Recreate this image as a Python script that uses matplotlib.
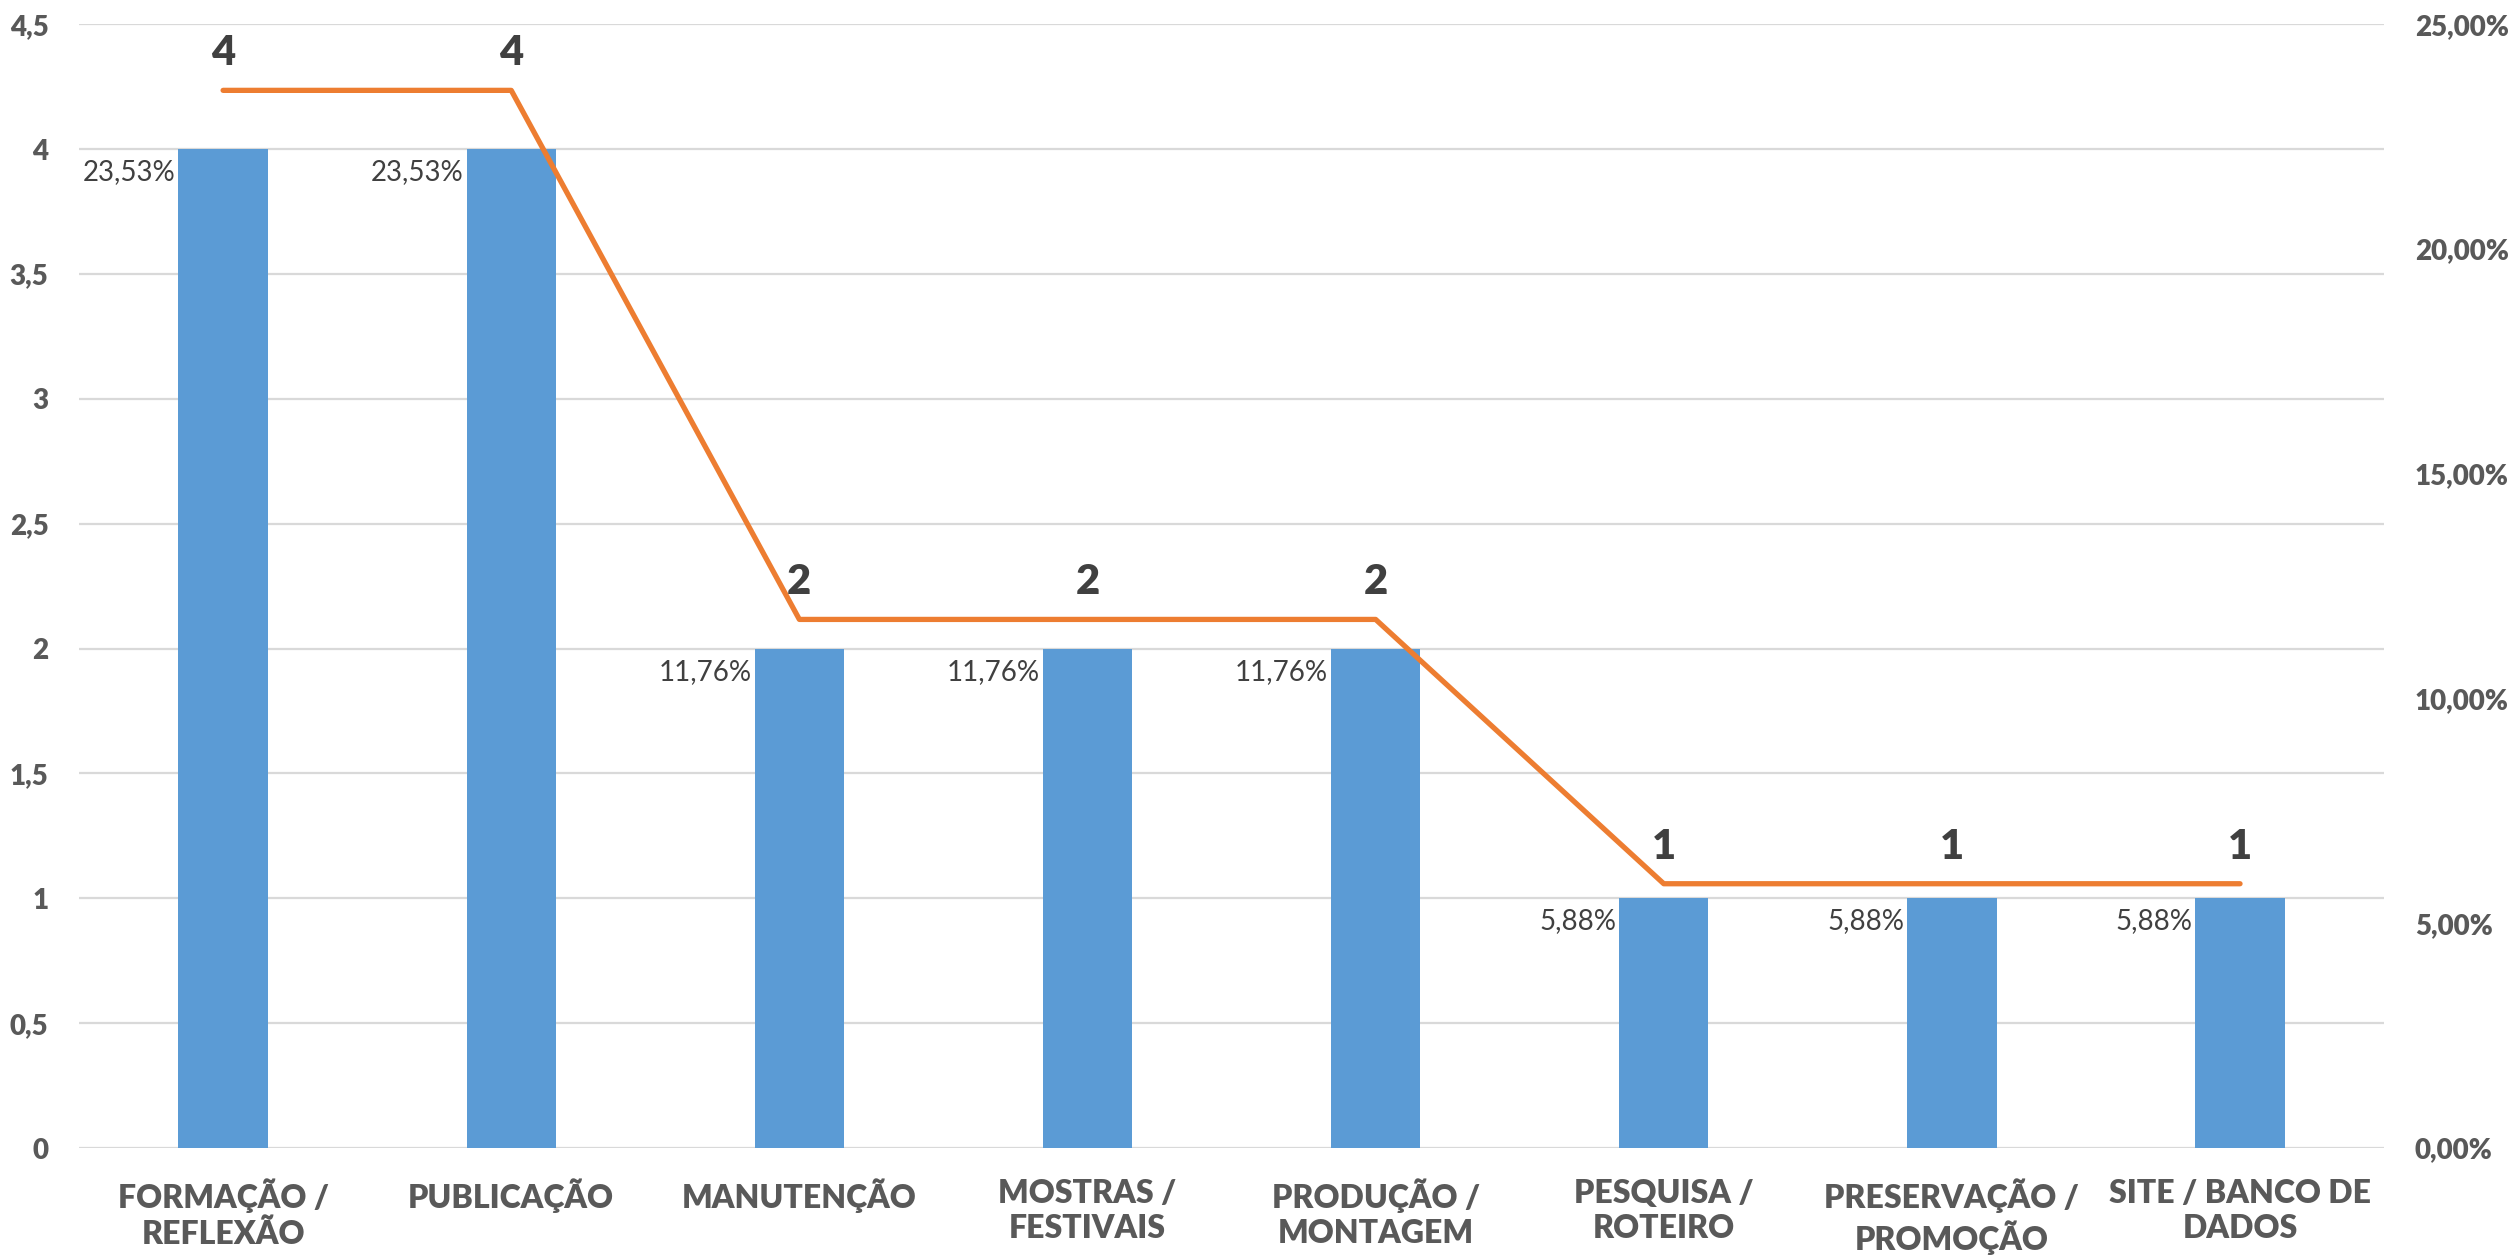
import matplotlib
matplotlib.use("Agg")
import matplotlib.pyplot as plt

plt.rcParams['font.family'] = ['Lato', 'DejaVu Sans']

categories = ["FORMAÇÃO /\nREFLEXÃO", "PUBLICAÇÃO", "MANUTENÇÃO", "MOSTRAS /\nFESTIVAIS",
              "PRODUÇÃO /\nMONTAGEM", "PESQUISA /\nROTEIRO", "PRESERVAÇÃO /\nPROMOÇÃO",
              "SITE / BANCO DE\nDADOS"]
counts = [4, 4, 2, 2, 2, 1, 1, 1]
percents = [23.53, 23.53, 11.76, 11.76, 11.76, 5.88, 5.88, 5.88]
left_ticks = [0, 0.5, 1, 1.5, 2, 2.5, 3, 3.5, 4, 4.5]
right_ticks = [0, 5, 10, 15, 20, 25]

BAR = "#5B9BD5"
LINE = "#ED7D31"
TICK = "#595959"
LAB = "#404040"
GRID = "#D9D9D9"

fig = plt.figure(figsize=(25.17, 12.58), dpi=100)
ax = fig.add_axes([0.0314, 0.0874, 0.9158, 0.8933])
x = list(range(len(categories)))

ax.bar(x, counts, width=0.31, color=BAR, zorder=2)
ax.set_xlim(-0.5, len(categories) - 0.5)
ax.set_ylim(0, 4.5)
ax.grid(axis='y', color=GRID, linewidth=1.6, zorder=0)
ax.set_axisbelow(True)
for s in ax.spines.values():
    s.set_visible(False)
ax.tick_params(axis='y', length=0, pad=22)
ax.tick_params(axis='x', length=0, pad=22)
ax.set_yticks(left_ticks, [f"{v:g}".replace(".", ",") for v in left_ticks])
ax.set_xticks(x, categories, fontweight='heavy', fontsize=23, color=TICK, linespacing=1.25)

for xi, c, p in zip(x, counts, percents):
    ax.annotate(f"{p:.2f}%".replace(".", ","), xy=(xi - 0.155, c), xytext=(-3, -10),
                textcoords='offset pixels', ha='right', va='top', fontsize=20, color=LAB)

ax2 = ax.twinx()
ax2.set_ylim(0, 25)
ax2.plot(x, percents, color=LINE, linewidth=3.8, solid_capstyle='round',
         solid_joinstyle='round', zorder=3)
ax2.tick_params(axis='y', length=0, pad=22)
ax2.set_yticks(right_ticks, [f"{v:.2f}%".replace(".", ",") for v in right_ticks])
for s in ax2.spines.values():
    s.set_visible(False)

for lbl in ax.get_yticklabels() + ax2.get_yticklabels():
    lbl.set_fontsize(20)
    lbl.set_fontweight('heavy')
    lbl.set_color(TICK)

for xi, c, p in zip(x, counts, percents):
    ax2.annotate(f"{c}", xy=(xi, p), xytext=(0, 18), textcoords='offset pixels',
                 ha='center', va='bottom', fontsize=30, fontweight='heavy', color=LAB)

fig.savefig("out.png", dpi=100, facecolor='white')
